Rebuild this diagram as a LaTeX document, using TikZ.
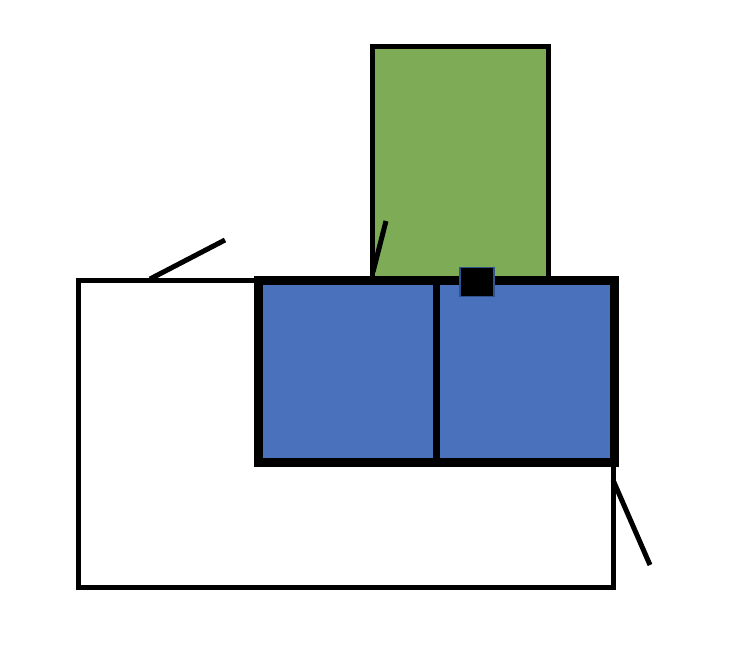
\documentclass[tikz,border=0pt]{standalone}
\definecolor{leafgreen}{HTML}{7EAB55}
\definecolor{boxblue}{HTML}{4A71BC}
\definecolor{edgeblue}{HTML}{2F528F}
\begin{document}
\begin{tikzpicture}[x=1pt,y=-1pt,
  thinframe/.style={draw=black,line width=5pt},
  thickframe/.style={draw=black,line width=9pt},
  stroke/.style={draw=black,line width=5pt}]
\useasboundingbox (0,0) rectangle (737,656);
% white base
\path[thinframe,fill=white] (78,280) rectangle (613,587);
% green block
\path[thinframe,fill=leafgreen] (372,46) rectangle (548,280);
% blue blocks
\path[thickframe,fill=boxblue] (258,280) rectangle (614,462);
\draw[line width=7pt] (436,280) -- (436,462);
% small black square
\node[draw=edgeblue,line width=1.5pt,fill=black,minimum width=34pt,minimum height=29pt,inner sep=0pt] (sq) at (477,282) {};
% strokes
\coordinate (a1) at (150,279); \coordinate (a2) at (225,240);
\draw[stroke] (a1) -- (a2);
\coordinate (b1) at (373,272); \coordinate (b2) at (386,221);
\draw[stroke] (b1) -- (b2);
\coordinate (c1) at (613,480); \coordinate (c2) at (650,565);
\draw[stroke] (c1) -- (c2);
\end{tikzpicture}
\end{document}
